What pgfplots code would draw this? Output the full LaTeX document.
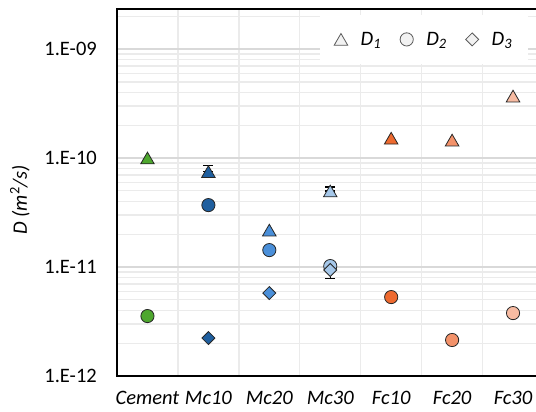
\documentclass[border=0pt]{standalone}
\usepackage{pgfplots}
\pgfplotsset{compat=1.18}
\usepackage{fontspec}
\setmainfont{Carlito}

\definecolor{cemc}{HTML}{4EA72E}
\definecolor{mca}{HTML}{1F5F9F}
\definecolor{mcb}{HTML}{4A8FD9}
\definecolor{mcc}{HTML}{A6C8EA}
\definecolor{fca}{HTML}{EE6A2F}
\definecolor{fcb}{HTML}{F3926A}
\definecolor{fcc}{HTML}{F7BBA2}
\definecolor{legfill}{HTML}{F2F2F2}
\definecolor{legdraw}{HTML}{595959}
\definecolor{majgrid}{HTML}{D9D9D9}
\definecolor{mingrid}{HTML}{EBEBEB}

\pgfplotsset{
  catcolors/.style={
    scatter, scatter src=explicit symbolic,
    scatter/classes={
      ce={fill=cemc}, m1={fill=mca}, m2={fill=mcb}, m3={fill=mcc},
      f1={fill=fca}, f2={fill=fcb}, f3={fill=fcc}}
  },
}

% D1: triangles, D2: circles, D3: diamonds
\pgfplotstableread{
x y c
0 1.00e-10 ce
1 7.50e-11 m1
2 2.18e-11 m2
3 4.98e-11 m3
4 1.52e-10 f1
5 1.46e-10 f2
6 3.70e-10 f3
}\dA
\pgfplotstableread{
x y c
0 3.55e-12 ce
1 3.70e-11 m1
2 1.43e-11 m2
3 1.02e-11 m3
4 5.30e-12 f1
5 2.14e-12 f2
6 3.78e-12 f3
}\dB
\pgfplotstableread{
x y c
1 2.23e-12 m1
2 5.77e-12 m2
3 9.40e-12 m3
}\dC

\begin{document}
\begin{tikzpicture}
\useasboundingbox (-117pt,-36pt) rectangle (419pt,376pt);
\begin{axis}[
  at={(0,0)}, anchor=south west,
  scale only axis, width=426.5pt, height=367pt,
  ymode=log,
  xmin=-0.5, xmax=6.5, ymin=1e-12, ymax=2.33e-9,
  xtick={0,...,6},
  xticklabels={Cement,Mc10,Mc20,Mc30,Fc10,Fc20,Fc30},
  ytick={1e-12,1e-11,1e-10,1e-9},
  yticklabels={1.E-12,1.E-11,1.E-10,1.E-09},
  minor xtick={0.5,1.5,2.5,3.5,4.5,5.5},
  minor ytick={2e-12,3e-12,4e-12,5e-12,6e-12,7e-12,8e-12,9e-12,
               2e-11,3e-11,4e-11,5e-11,6e-11,7e-11,8e-11,9e-11,
               2e-10,3e-10,4e-10,5e-10,6e-10,7e-10,8e-10,9e-10,2e-9},
  major tick length=0pt, minor tick length=0pt,
  ymajorgrids, yminorgrids, xminorgrids,
  major grid style={draw=majgrid, line width=1.8pt},
  minor grid style={draw=mingrid, line width=1.3pt},
  axis line style={line width=1.6pt},
  xticklabel style={font=\fontsize{20.5}{24}\selectfont\itshape, anchor=north, inner sep=0pt, yshift=-15pt},
  yticklabel style={font=\fontsize{20.5}{24}\selectfont, anchor=east, inner sep=0pt, xshift=-20pt},
  ylabel={\itshape D (m\textsuperscript{\upshape 2}/s)},
  every axis y label/.style={at={(axis description cs:-0.2275,0.48)}, rotate=90, anchor=center,
    font=\fontsize{20.5}{24}\selectfont},
  legend style={at={(0.476,0.984)}, anchor=north west, draw=none, fill=white,
    font=\fontsize{20.5}{24}\selectfont\itshape, inner xsep=14pt, inner ysep=15pt,
    /tikz/every odd column/.append style={column sep=11pt},
    /tikz/every even column/.append style={column sep=17pt}},
  legend columns=3,
  legend image code/.code={\draw[#1] plot coordinates {(0.3cm,0cm)};},
]
% error bars, drawn beneath the markers
\addplot[forget plot, only marks, mark=none, draw=black,
  error bars/.cd, y dir=both, y explicit,
  error bar style={line width=1.2pt, black},
  error mark options={rotate=90, mark size=5pt, line width=1.2pt, black}]
  coordinates {
    (1,7.50e-11) += (0,1.05e-11) -= (0,0)
    (3,4.98e-11) += (0,0.45e-11) -= (0,0)
    (3,9.40e-12) += (0,0) -= (0,1.50e-12)
  };

\addplot[forget plot, only marks, catcolors, mark=triangle*, mark size=7.8pt,
  mark options={draw=black!85, line width=0.8pt, yshift=-1.9pt}]
  table[x=x, y=y, meta=c] {\dA};
\addplot[forget plot, only marks, catcolors, mark=*, mark size=6.6pt,
  mark options={draw=black!85, line width=0.8pt}]
  table[x=x, y=y, meta=c] {\dB};
\addplot[forget plot, only marks, catcolors, mark=square*, mark size=4.6pt,
  mark options={draw=black!85, line width=0.8pt, rotate=45}]
  table[x=x, y=y, meta=c] {\dC};

\addlegendimage{only marks, mark=triangle*, mark size=7.8pt,
  mark options={fill=legfill, draw=legdraw, line width=0.8pt, yshift=-1.9pt}}
\addlegendentry{D\textsubscript{1}}
\addlegendimage{only marks, mark=*, mark size=6.6pt,
  mark options={fill=legfill, draw=legdraw, line width=0.8pt}}
\addlegendentry{D\textsubscript{2}}
\addlegendimage{only marks, mark=square*, mark size=4.6pt,
  mark options={fill=legfill, draw=legdraw, line width=0.8pt, rotate=45}}
\addlegendentry{D\textsubscript{3}}
\end{axis}
\end{tikzpicture}
\end{document}
